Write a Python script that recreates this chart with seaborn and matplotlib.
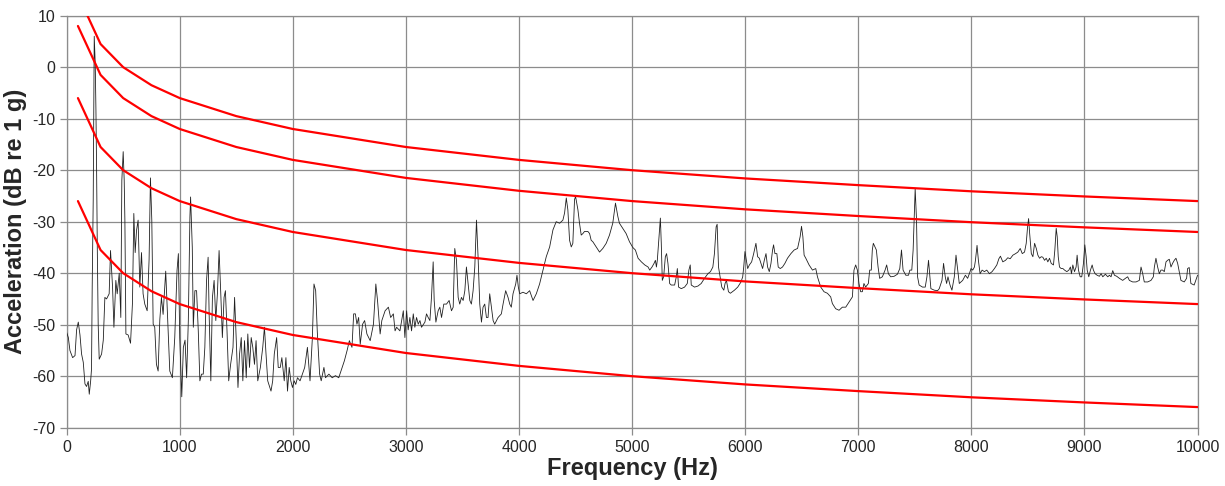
import matplotlib
matplotlib.use("Agg")
import matplotlib.pyplot as plt
import seaborn as sns
import pandas as pd

# ---- data ----
freq_hz = [0, 15, 29, 53, 74, 88, 103, 118, 132, 147, 162, 176, 191, 200, 212, 220, 226, 235, 244, 253,
           259, 265, 271, 279, 288, 309, 324, 338, 353, 376, 388, 406, 418, 435, 447, 465, 479, 488, 500, 509,
           515, 524, 544, 565, 582, 594, 606, 618, 632, 647, 662, 676, 691, 712, 729, 741, 753, 765, 779, 794,
           809, 824, 838, 853, 876, 888, 912, 935, 956, 976, 988, 1000, 1018, 1032, 1047, 1061, 1076, 1090, 1096, 1111,
           1120, 1134, 1149, 1164, 1178, 1193, 1208, 1222, 1237, 1251, 1260, 1275, 1289, 1304, 1319, 1333, 1348, 1363, 1377, 1392,
           1404, 1418, 1433, 1450, 1471, 1485, 1500, 1515, 1529, 1544, 1558, 1573, 1588, 1602, 1617, 1632, 1646, 1661, 1675, 1690,
           1713, 1734, 1749, 1763, 1778, 1807, 1822, 1836, 1857, 1871, 1889, 1903, 1924, 1939, 1953, 1968, 1982, 1997, 2012, 2026,
           2041, 2064, 2085, 2105, 2129, 2152, 2173, 2187, 2202, 2216, 2237, 2251, 2275, 2289, 2319, 2348, 2377, 2406, 2436, 2456,
           2480, 2500, 2523, 2538, 2553, 2567, 2582, 2596, 2617, 2635, 2655, 2684, 2713, 2734, 2749, 2772, 2787, 2816, 2845, 2865,
           2889, 2904, 2918, 2947, 2977, 2991, 3006, 3020, 3035, 3050, 3065, 3079, 3094, 3109, 3124, 3138, 3168, 3182, 3197, 3212,
           3226, 3241, 3250, 3265, 3285, 3300, 3315, 3335, 3359, 3382, 3403, 3418, 3432, 3447, 3462, 3476, 3491, 3506, 3521, 3535,
           3550, 3565, 3579, 3594, 3609, 3624, 3638, 3653, 3668, 3682, 3697, 3712, 3726, 3741, 3756, 3771, 3785, 3815, 3844, 3859,
           3882, 3903, 3918, 3932, 3947, 3971, 3982, 3994, 4006, 4035, 4065, 4094, 4124, 4153, 4182, 4212, 4241, 4271, 4300, 4329,
           4359, 4388, 4403, 4418, 4432, 4447, 4462, 4476, 4491, 4500, 4521, 4535, 4550, 4565, 4579, 4609, 4624, 4638, 4653, 4682,
           4712, 4741, 4771, 4800, 4829, 4853, 4874, 4888, 4918, 4947, 4977, 5006, 5029, 5053, 5082, 5112, 5141, 5156, 5176, 5194,
           5206, 5215, 5223, 5238, 5250, 5258, 5267, 5279, 5294, 5305, 5317, 5332, 5346, 5376, 5391, 5400, 5411, 5435, 5464, 5488,
           5502, 5514, 5523, 5552, 5582, 5611, 5640, 5670, 5693, 5714, 5728, 5743, 5752, 5764, 5778, 5793, 5811, 5822, 5834, 5852,
           5869, 5905, 5934, 5963, 5978, 5987, 5998, 6010, 6022, 6037, 6057, 6075, 6095, 6110, 6125, 6139, 6154, 6169, 6184, 6198,
           6213, 6228, 6242, 6251, 6263, 6280, 6292, 6310, 6330, 6351, 6374, 6404, 6433, 6463, 6486, 6498, 6510, 6521, 6536, 6565,
           6595, 6624, 6639, 6668, 6697, 6727, 6756, 6771, 6800, 6830, 6859, 6889, 6918, 6948, 6962, 6977, 6992, 7006, 7021, 7036,
           7050, 7065, 7089, 7101, 7115, 7124, 7133, 7148, 7160, 7175, 7189, 7213, 7237, 7251, 7266, 7287, 7317, 7346, 7367, 7382,
           7396, 7420, 7444, 7456, 7473, 7485, 7494, 7503, 7515, 7524, 7538, 7568, 7592, 7607, 7621, 7633, 7642, 7672, 7701, 7716,
           7740, 7754, 7769, 7781, 7793, 7811, 7828, 7849, 7864, 7879, 7893, 7923, 7947, 7967, 7982, 7997, 8012, 8027, 8036, 8050,
           8062, 8077, 8095, 8115, 8136, 8160, 8183, 8204, 8225, 8243, 8257, 8278, 8302, 8322, 8343, 8367, 8391, 8411, 8432, 8450,
           8470, 8485, 8497, 8506, 8515, 8530, 8544, 8559, 8574, 8588, 8603, 8618, 8632, 8647, 8662, 8676, 8691, 8706, 8726, 8738,
           8750, 8759, 8768, 8779, 8794, 8809, 8824, 8844, 8862, 8876, 8885, 8897, 8912, 8926, 8935, 8947, 8962, 8976, 8991, 9003,
           9015, 9024, 9038, 9053, 9068, 9079, 9094, 9112, 9132, 9147, 9162, 9185, 9206, 9221, 9235, 9250, 9265, 9285, 9309, 9338,
           9362, 9382, 9397, 9426, 9456, 9485, 9500, 9515, 9529, 9559, 9588, 9609, 9618, 9632, 9647, 9662, 9676, 9691, 9706, 9721,
           9735, 9750, 9765, 9779, 9794, 9809, 9824, 9838, 9853, 9882, 9903, 9912, 9926, 9941, 9970, 10000]

accel_db = [-51.5, -52.5, -55.0, -56.4, -56.0, -51.0, -49.5, -52.0, -55.7, -57.3, -61.5, -62.0, -61.0, -63.5, -61.0, -58.6, -42.7, -25.8, 6.0, 0.5,
            -8.3, -20.0, -35.0, -50.0, -56.7, -55.7, -53.0, -44.7, -45.0, -44.0, -35.6, -42.7, -50.5, -41.4, -44.0, -40.0, -48.6, -22.0, -16.4, -22.0,
            -29.7, -51.8, -52.0, -53.6, -45.8, -28.4, -36.0, -31.7, -29.7, -42.7, -36.0, -44.0, -46.0, -47.3, -37.4, -21.5, -29.7, -49.9, -50.5, -57.7,
            -59.0, -49.0, -44.7, -48.0, -39.6, -46.0, -59.0, -60.3, -52.5, -39.5, -36.2, -52.5, -64.0, -54.4, -53.0, -60.3, -49.2, -29.1, -25.2, -35.0,
            -50.5, -43.4, -43.4, -51.2, -60.9, -59.6, -59.6, -54.4, -41.4, -36.9, -47.9, -60.9, -44.7, -41.4, -49.2, -44.0, -35.6, -44.0, -52.5, -44.7,
            -43.4, -51.2, -60.9, -57.7, -54.4, -44.7, -53.1, -62.2, -55.7, -52.5, -60.9, -53.1, -60.3, -51.8, -58.3, -52.5, -54.4, -57.7, -53.1, -60.9,
            -58.3, -54.4, -50.5, -55.7, -60.9, -62.9, -60.9, -55.7, -52.5, -58.3, -58.3, -56.4, -60.9, -56.4, -62.9, -58.3, -60.9, -62.2, -60.9, -61.6,
            -60.3, -60.9, -59.6, -58.3, -54.4, -60.9, -52.5, -42.1, -43.4, -51.2, -59.6, -60.9, -58.3, -60.3, -59.6, -60.3, -59.9, -60.3, -58.3, -57.0,
            -55.0, -53.1, -54.4, -47.9, -47.9, -49.9, -48.6, -53.8, -49.9, -49.2, -51.8, -53.1, -49.9, -42.1, -45.3, -51.8, -49.2, -47.3, -46.6, -48.6,
            -47.9, -51.2, -50.5, -51.2, -47.3, -52.5, -47.3, -51.0, -48.6, -51.2, -47.9, -50.5, -48.6, -49.9, -49.2, -50.5, -49.5, -47.9, -48.6, -49.2,
            -44.7, -37.8, -45.3, -49.5, -47.3, -46.6, -48.6, -46.0, -46.0, -45.3, -47.3, -46.6, -35.2, -37.5, -44.7, -46.0, -44.7, -45.3, -43.4, -38.8,
            -42.1, -45.3, -46.0, -43.4, -38.8, -29.7, -36.8, -46.0, -49.5, -46.6, -46.0, -48.6, -48.6, -44.0, -46.6, -49.2, -49.9, -48.6, -47.9, -46.0,
            -43.4, -44.7, -46.0, -46.6, -44.0, -42.1, -40.4, -42.7, -44.0, -43.7, -44.0, -43.4, -45.3, -44.0, -42.1, -39.4, -36.8, -34.9, -31.6, -30.0,
            -30.3, -29.7, -28.3, -25.4, -27.7, -33.6, -34.9, -34.2, -25.7, -25.1, -27.7, -30.3, -32.6, -32.3, -31.9, -31.9, -32.3, -33.6, -33.9, -34.9,
            -35.9, -35.2, -34.2, -32.6, -30.3, -26.4, -29.0, -30.3, -31.3, -32.3, -33.9, -35.0, -35.5, -37.1, -37.8, -38.4, -38.8, -39.4, -38.8, -38.1,
            -37.5, -38.8, -37.5, -32.9, -29.3, -34.2, -41.4, -40.7, -36.8, -36.2, -38.1, -42.0, -42.3, -42.3, -40.7, -39.1, -42.7, -43.0, -42.7, -42.0,
            -39.4, -38.4, -42.3, -42.7, -42.5, -42.0, -41.0, -40.1, -39.7, -38.8, -36.2, -31.0, -30.5, -38.8, -40.7, -42.7, -43.3, -42.0, -41.4, -43.6,
            -43.9, -43.3, -42.7, -41.7, -40.7, -38.8, -35.8, -37.5, -39.1, -38.4, -37.8, -36.2, -34.2, -36.8, -37.1, -38.1, -39.1, -37.5, -36.2, -38.8,
            -39.7, -38.1, -35.5, -34.5, -36.2, -36.2, -38.8, -39.1, -38.8, -38.1, -37.1, -36.2, -35.5, -35.2, -32.9, -30.9, -32.9, -36.5, -37.1, -38.4,
            -39.4, -39.1, -40.7, -42.7, -43.6, -43.9, -44.6, -45.9, -46.9, -47.2, -46.6, -46.6, -45.6, -44.6, -39.4, -38.4, -39.4, -42.0, -43.6, -43.6,
            -42.0, -42.7, -42.0, -39.4, -39.4, -35.5, -34.2, -34.9, -35.5, -38.8, -41.0, -40.7, -39.4, -38.4, -40.1, -40.7, -40.6, -40.2, -39.1, -35.5,
            -39.4, -40.4, -40.4, -39.4, -39.4, -35.5, -29.7, -23.6, -29.7, -40.7, -42.3, -42.7, -42.7, -40.7, -37.5, -40.7, -43.0, -43.3, -43.4, -43.0,
            -41.4, -38.1, -40.7, -42.0, -40.7, -42.3, -43.3, -40.7, -36.5, -39.4, -42.0, -41.4, -40.4, -41.0, -40.1, -39.1, -39.4, -38.8, -37.5, -34.6,
            -37.5, -40.1, -39.4, -39.7, -39.4, -40.1, -39.7, -39.1, -38.4, -37.2, -36.7, -37.8, -37.5, -37.0, -37.2, -36.5, -36.2, -35.9, -35.2, -36.2,
            -35.9, -34.2, -31.0, -29.4, -32.2, -36.2, -36.8, -34.2, -35.2, -36.5, -37.1, -36.8, -36.9, -37.5, -37.1, -37.8, -37.1, -38.1, -38.4, -35.5,
            -31.3, -32.9, -36.8, -38.8, -39.1, -39.1, -39.4, -39.7, -39.4, -38.8, -40.1, -38.4, -39.7, -38.8, -36.5, -39.4, -40.7, -40.7, -38.1, -34.5,
            -36.8, -39.4, -40.7, -39.4, -38.4, -39.4, -40.1, -40.4, -40.6, -40.1, -40.7, -40.2, -40.7, -40.4, -40.7, -39.5, -40.4, -40.6, -41.0, -41.4,
            -41.0, -40.7, -41.4, -41.7, -41.7, -41.4, -38.8, -40.1, -41.7, -41.7, -41.4, -40.7, -38.8, -37.1, -38.8, -40.1, -39.4, -39.4, -39.7, -37.8,
            -37.5, -37.3, -38.8, -38.1, -37.5, -37.1, -38.1, -39.7, -41.4, -41.7, -41.0, -39.1, -38.9, -42.0, -42.3, -40.4]

limit_freq = [100, 300, 500, 750, 1000, 1500, 2000, 3000, 4000, 5000, 6000, 7000, 8000, 9000, 10000]
limit_1 = [14.0, 4.5, 0.0, -3.5, -6.0, -9.5, -12.0, -15.5, -18.0, -20.0, -21.6, -22.9, -24.1, -25.1, -26.0]
limit_2 = [8.0, -1.5, -6.0, -9.5, -12.0, -15.5, -18.0, -21.5, -24.0, -26.0, -27.6, -28.9, -30.1, -31.1, -32.0]
limit_3 = [-6.0, -15.5, -20.0, -23.5, -26.0, -29.5, -32.0, -35.5, -38.0, -40.0, -41.6, -42.9, -44.1, -45.1, -46.0]
limit_4 = [-26.0, -35.5, -40.0, -43.5, -46.0, -49.5, -52.0, -55.5, -58.0, -60.0, -61.6, -62.9, -64.1, -65.1, -66.0]

x_ticks = [0, 1000, 2000, 3000, 4000, 5000, 6000, 7000, 8000, 9000, 10000]
y_ticks = [-70, -60, -50, -40, -30, -20, -10, 0, 10]

# ---- style ----
sns.set_style("white")
plt.rcParams["font.family"] = ["Liberation Sans", "DejaVu Sans"]
plt.rcParams["axes.unicode_minus"] = False

fig = plt.figure(figsize=(12.25, 4.86), dpi=100)
ax = fig.add_axes([0.0544, 0.120, 0.9232, 0.8477])

spec = pd.DataFrame({"f": freq_hz, "a": accel_db})
sns.lineplot(data=spec, x="f", y="a", ax=ax, color="#202020", linewidth=0.6,
             estimator=None, sort=False, zorder=3)

for lim in (limit_1, limit_2, limit_3, limit_4):
    d = pd.DataFrame({"f": limit_freq, "a": lim})
    sns.lineplot(data=d, x="f", y="a", ax=ax, color="#ff0000", linewidth=1.6,
                 estimator=None, sort=False, zorder=4)

ax.set_xlim(0, 10000)
ax.set_ylim(-70, 10)
ax.set_xticks(x_ticks)
ax.set_yticks(y_ticks)
ax.set_xticklabels([str(t) for t in x_ticks], fontsize=11.5)
ax.set_yticklabels([str(t) for t in y_ticks], fontsize=11.5)
ax.grid(True, color="#8c8c8c", linewidth=0.9)
ax.set_axisbelow(True)
for s in ax.spines.values():
    s.set_color("#8c8c8c")
    s.set_linewidth(0.9)
ax.tick_params(axis="both", which="major", length=5, width=0.9, color="#8c8c8c",
               direction="out", pad=3, bottom=True, left=True)
ax.tick_params(axis="x", pad=4)

ax.set_xlabel("Frequency (Hz)", fontsize=17, fontweight="bold", labelpad=1)
ax.set_ylabel("Acceleration (dB re 1 g)", fontsize=17, fontweight="bold", labelpad=4)

fig.savefig("out.png", dpi=100)
